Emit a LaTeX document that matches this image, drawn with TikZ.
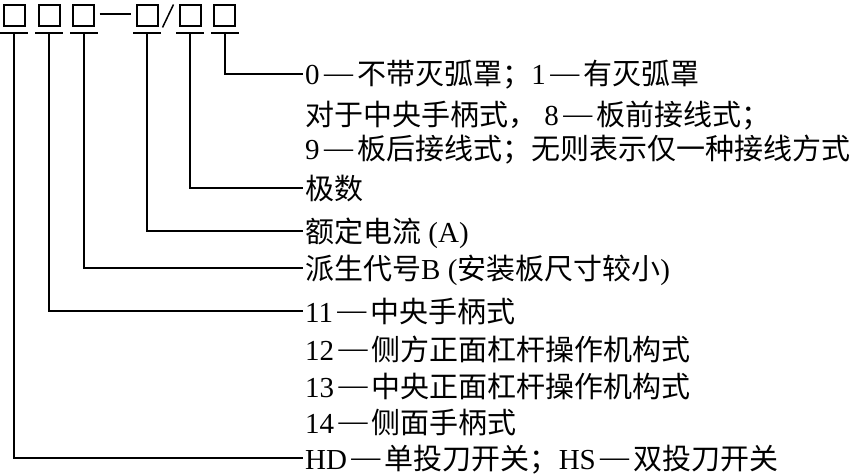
\documentclass[tikz,border=0pt]{standalone}
\usepackage{fontspec}
\setmainfont{Liberation Serif}
\newfontfamily\cjk{Noto Sans CJK SC}
\newcommand{\C}[1]{{\cjk #1}}
\newcommand{\dsh}{\hspace{0.15em}\raisebox{0.1em}{—}\hspace{0.15em}}
\begin{document}
\begin{tikzpicture}[x=1pt,y=-1pt,
  box/.style={draw, minimum size=21pt, inner sep=0pt, line width=2pt},
  lab/.style={anchor=west, inner sep=0pt, text height=25.5pt, text depth=3.5pt,
              font=\fontsize{29}{34}\selectfont},
  lead/.style={line width=1.8pt},
  uline/.style={line width=1.8pt}]
\useasboundingbox (0,0) rectangle (867,476);
% code boxes
\node[box] (b1) at (14,16) {};
\node[box] (b2) at (49,16) {};
\node[box] (b3) at (83,16) {};
\node[box] (b4) at (147,16) {};
\node[box] (b5) at (190,16) {};
\node[box] (b6) at (224,16) {};
\draw[lead] ([xshift=5pt,yshift=2pt]b3.east) -- ([xshift=-5pt,yshift=2pt]b4.west);
\draw[line width=1.5pt] ([xshift=4pt]b4.south east) -- ([xshift=-5pt]b5.north west);
% underline points
\coordinate (u1) at (14,33);
\coordinate (u2) at (49,33);
\coordinate (u3) at (84,33);
\coordinate (u4) at (147,33);
\coordinate (u5) at (190,33);
\coordinate (u6) at (225,33);
\foreach \u in {u1,u2,u3,u4,u5,u6}
  \draw[uline] ([xshift=-14pt]\u) -- ([xshift=14pt]\u);
% labels
\node[lab] (t1) at (305,74) {0\dsh\C{不带灭弧罩；}1\dsh\C{有灭弧罩}};
\node[lab] (t2) at (305,115) {\C{对于中央手柄式，}\hspace{0.25em}8\dsh\C{板前接线式；}};
\node[lab] (t3) at (305,149) {9\dsh\C{板后接线式；无则表示仅一种接线方式}};
\node[lab] (t4) at (305,188) {\C{极数}};
\node[lab] (t5) at (305,231) {\C{额定电流} (A)};
\node[lab] (t6) at (305,268) {\C{派生代号}B (\C{安装板尺寸较小})};
\node[lab] (t7) at (305,311) {11\dsh\C{中央手柄式}};
\node[lab] (t8) at (305,349) {12\dsh\C{侧方正面杠杆操作机构式}};
\node[lab] (t9) at (305,386) {13\dsh\C{中央正面杠杆操作机构式}};
\node[lab] (t10) at (305,422) {14\dsh\C{侧面手柄式}};
\node[lab] (t11) at (305,458) {HD\dsh\C{单投刀开关；}HS\dsh\C{双投刀开关}};
% leaders
\draw[lead] (u6) |- ([xshift=-2pt]t1.west);
\draw[lead] (u5) |- ([xshift=-2pt]t4.west);
\draw[lead] (u4) |- ([xshift=-2pt]t5.west);
\draw[lead] (u3) |- ([xshift=-2pt]t6.west);
\draw[lead] (u2) |- ([xshift=-2pt]t7.west);
\draw[lead] (u1) |- ([xshift=-2pt]t11.west);
\end{tikzpicture}
\end{document}
